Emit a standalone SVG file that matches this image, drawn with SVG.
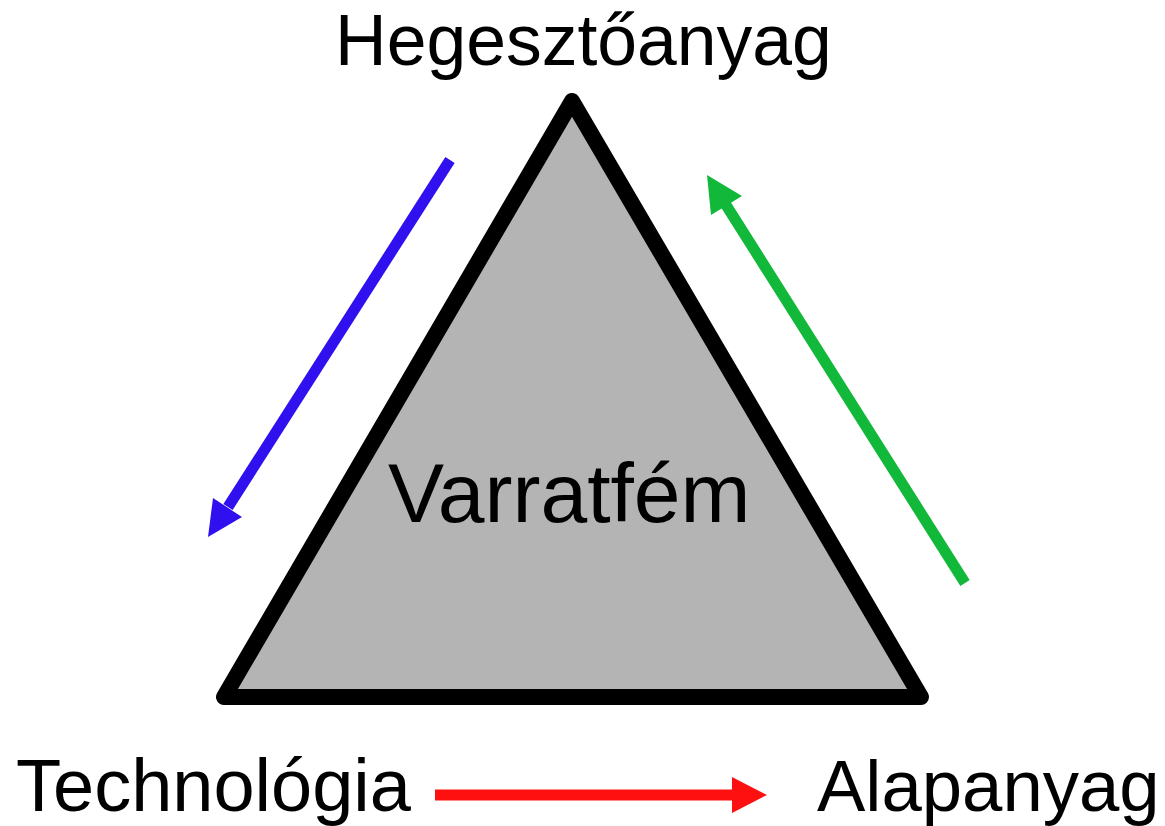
<svg xmlns="http://www.w3.org/2000/svg" width="1165" height="826" viewBox="0 0 1165 826">
<style>
text{font-family:"Liberation Sans",Arial,sans-serif;fill:#000}
.tri{fill:#b4b4b4;stroke:#000;stroke-width:16;stroke-linejoin:round}
.blue{stroke:#3010ee;fill:#3010ee}
.green{stroke:#12b83a;fill:#12b83a}
.red{stroke:#fe1010;fill:#fe1010}
.shaft{stroke-width:11;fill:none}
.head{stroke:none}
</style>
<rect width="1165" height="826" fill="#fff"/>
<g id="triangle">
<polygon class="tri" points="572,101 224,697 921,697"/>
<text x="388" y="522" font-size="84">Varratfém</text>
</g>
<g id="hegesztoanyag"><text x="335" y="65" font-size="71.5">Hegesztőanyag</text></g>
<g id="technologia"><text x="16" y="811" font-size="74">Technológia</text></g>
<g id="alapanyag"><text x="817" y="811" font-size="72.5">Alapanyag</text></g>
<g id="connectors">
<g class="blue"><line class="shaft" x1="450" y1="160" x2="228" y2="507"/><polygon class="head" points="208,537 213,498 242,517"/></g>
<g class="green"><line class="shaft" x1="965" y1="583" x2="726" y2="205"/><polygon class="head" points="707,175 711,215 742,196"/></g>
<g class="red"><line class="shaft" x1="435" y1="795" x2="734" y2="795"/><polygon class="head" points="732,777 767,795 732,813"/></g>
</g>
</svg>
